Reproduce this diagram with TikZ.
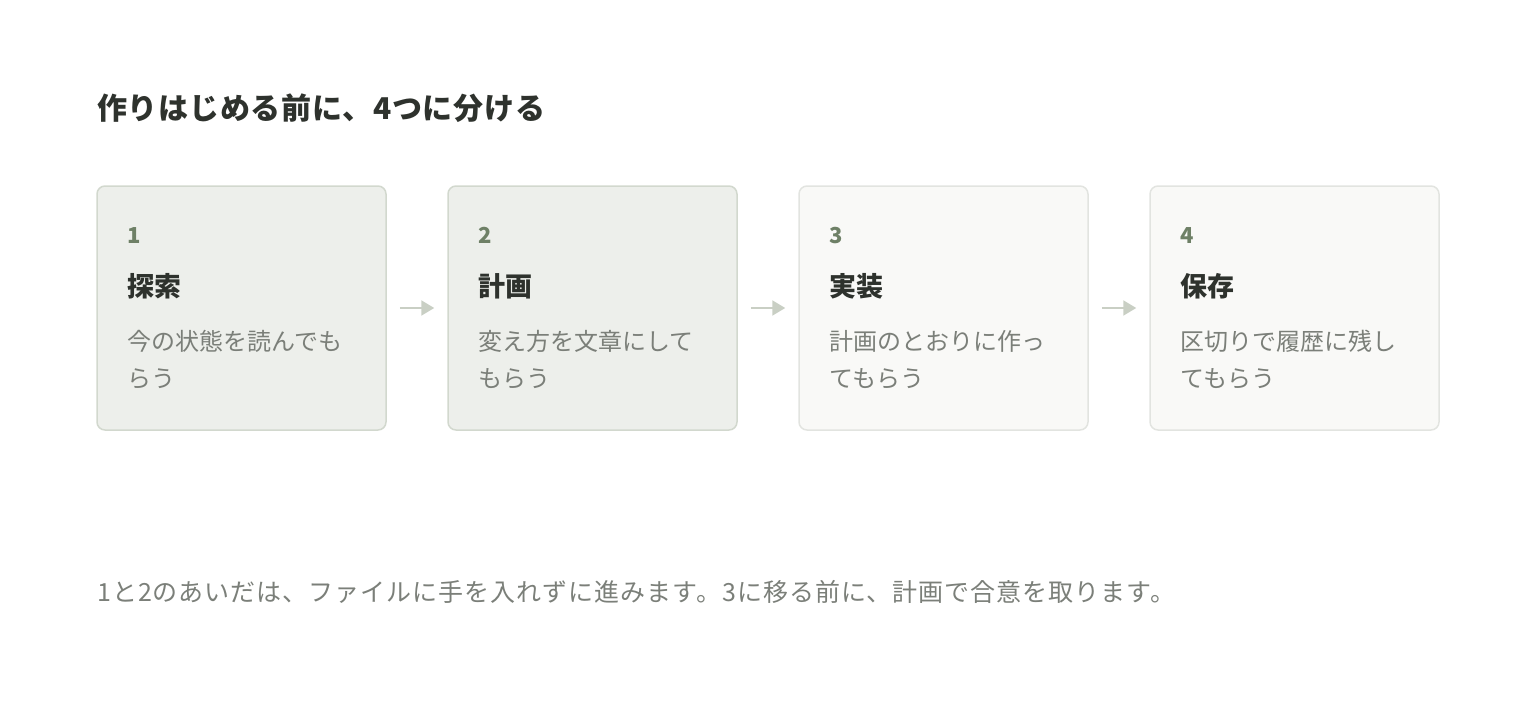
\documentclass[tikz,border=0pt]{standalone}
\usepackage{fontspec}
\setmainfont{Noto Sans CJK JP}
\usetikzlibrary{arrows.meta,positioning}
\definecolor{Abg}{HTML}{EDEFEB}
\definecolor{Aedge}{HTML}{D2D8CE}
\definecolor{Bbg}{HTML}{F9F9F7}
\definecolor{Bedge}{HTML}{E2E4E0}
\definecolor{numgreen}{HTML}{6E8066}
\definecolor{ink}{HTML}{2E322D}
\definecolor{softink}{HTML}{7B7F79}
\definecolor{arrowgray}{HTML}{C9CFC4}
\newfontfamily\spacedfont[LetterSpace=4]{Noto Sans CJK JP}
\newfontfamily\spacedtitle[LetterSpace=2.5]{Noto Sans CJK JP}
\tikzset{
  stage/.style={draw=#1edge, fill=#1bg, line width=1.5pt, rounded corners=8pt,
    minimum width=289pt, minimum height=244pt, inner sep=0pt},
  num/.style={anchor=base west, inner sep=0pt, text=numgreen, font=\fontsize{22}{26}\selectfont\bfseries},
  label/.style={anchor=base west, inner sep=0pt, text=ink, font=\fontsize{27}{32}\selectfont\bfseries},
  desc/.style={anchor=base west, inner sep=0pt, text=softink, font=\fontsize{24}{28}\selectfont},
  flow/.style={draw=arrowgray, line width=2pt, shorten <=13pt, shorten >=13pt,
    -{Triangle[length=13pt,width=15pt]}}
}

\begin{document}
\begin{tikzpicture}[x=1pt,y=1pt]
\useasboundingbox (0,0) rectangle (1536,-704);
\node[anchor=base west, inner sep=0pt, text=ink, font=\spacedtitle\fontsize{30}{36}\selectfont\bfseries] (title) at (97,-119) {作りはじめる前に、4つに分ける};

% the four stages
\foreach \i/\x/\kind/\name/\lineA/\lineB in {
  1/97/A/探索/今の状態を読んでも/らう,
  2/448/A/計画/変え方を文章にして/もらう,
  3/799/B/実装/計画のとおりに作っ/てもらう,
  4/1150/B/保存/区切りで履歴に残し/てもらう}{
  \node[stage=\kind] (s\i) at (\x+144.5,-308) {};
  \node[num] (n\i) at (\x+30,-243) {\i};
  \node[label] (t\i) at (\x+30,-296) {\name};
  \node[desc] (da\i) at (\x+30,-350) {\lineA};
  \node[desc] (db\i) at (\x+30,-387) {\lineB};
}
\foreach \a/\b in {1/2,2/3,3/4}
  \draw[flow] (s\a) -- (s\b);

\node[desc, font=\spacedfont\fontsize{25}{30}\selectfont] (note) at (97,-601) {1と2のあいだは、ファイルに手を入れずに進みます。3に移る前に、計画で合意を取ります。};
\end{tikzpicture}
\end{document}
